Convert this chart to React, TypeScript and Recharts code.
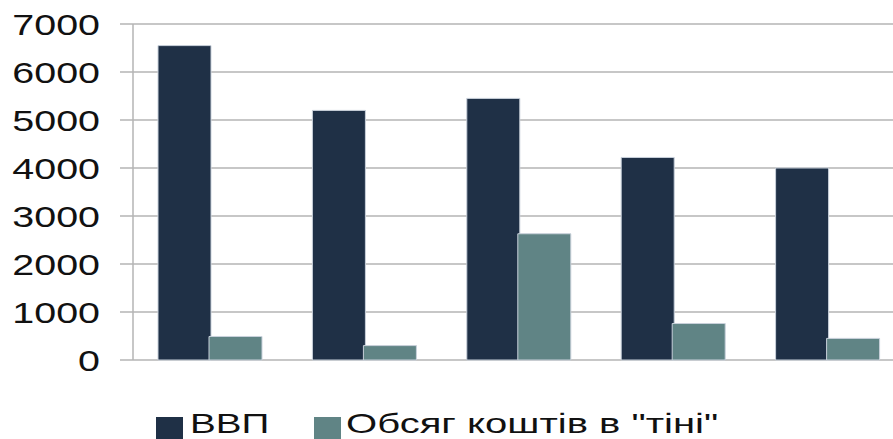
import { BarChart, Bar, XAxis, YAxis, CartesianGrid } from "recharts"

const CATEGORIES = ["1", "2", "3", "4", "5"]
const GDP = [6550, 5200, 5450, 4220, 4000]
const SHADOW = [490, 300, 2630, 760, 450]
const Y_TICKS = [0, 1000, 2000, 3000, 4000, 5000, 6000, 7000]

const SERIES = [
  { key: "gdp", name: "ВВП", color: "#1f3046" },
  { key: "shadow", name: "Обсяг коштів в \"тіні\"", color: "#608485" },
]

const data = CATEGORIES.map((c, i) => ({ name: c, gdp: GDP[i], shadow: SHADOW[i] }))

const FONT = "'Liberation Sans', Arial, sans-serif"
const GRID = "#b4b4b4"

// the reference text is stretched sideways
function YTick({ x, y, payload }: any) {
  return (
    <g transform={`translate(${x},${y}) scale(1.36,1)`}>
      <text x={0} y={0} dy={11} textAnchor="end" fill="#111" fontSize={29} fontFamily={FONT}>
        {payload.value}
      </text>
    </g>
  )
}

export default function App() {
  return (
    <div style={{ position: "absolute", left: 0, top: 0, width: 893, height: 439, overflow: "hidden", background: "#fff" }}>
      <BarChart
        width={906}
        height={439}
        data={data}
        margin={{ top: 24, right: 1, left: 0, bottom: 79 }}
        barCategoryGap={25}
        barGap={-2}
      >
        <CartesianGrid vertical={false} stroke={GRID} strokeWidth={1.5} />
        <XAxis dataKey="name" height={0} tick={false} tickLine={false} axisLine={{ stroke: GRID, strokeWidth: 1.5 }} />
        <YAxis
          width={133}
          domain={[0, 7000]}
          ticks={Y_TICKS}
          interval={0}
          tickSize={13}
          tickMargin={20}
          tick={<YTick />}
          tickLine={{ stroke: GRID, strokeWidth: 1.5 }}
          axisLine={{ stroke: GRID, strokeWidth: 1.5 }}
        />
        {SERIES.map((s) => (
          <Bar key={s.key} dataKey={s.key} name={s.name} fill={s.color} stroke="#c9d1db" strokeWidth={1} isAnimationActive={false} />
        ))}
      </BarChart>
      <div style={{ position: "absolute", top: 410, left: 156, display: "flex", fontFamily: FONT, fontSize: 28, color: "#111", lineHeight: "28px" }}>
        {SERIES.map((s, i) => (
          <div key={s.key} style={{ position: "relative", width: i === 0 ? 158 : 420, height: 29 }}>
            <span style={{ position: "absolute", left: 0, top: 7, width: 27, height: 22, background: s.color }} />
            <span style={{ position: "absolute", left: i === 0 ? 34 : 32, top: 0, transform: `scale(${i === 0 ? 1.38 : 1.43},1)`, transformOrigin: "left top", whiteSpace: "nowrap" }}>
              {s.name}
            </span>
          </div>
        ))}
      </div>
    </div>
  )
}
